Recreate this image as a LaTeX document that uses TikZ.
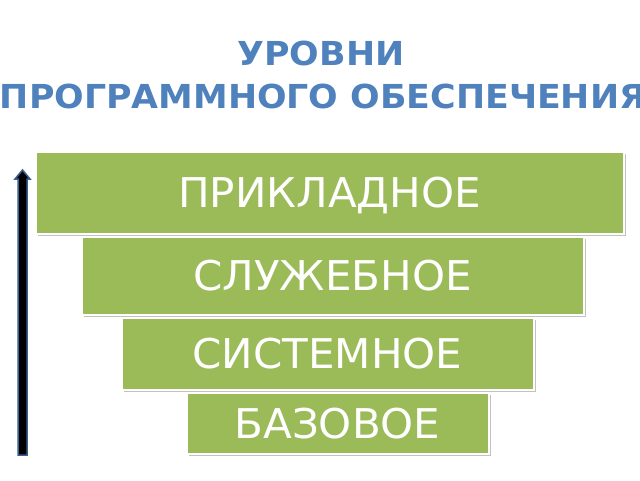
\documentclass[tikz,border=0pt]{standalone}
\usepackage{fontspec}
\setmainfont{DejaVu Sans}
\newfontfamily\ttlfont[FakeStretch=1.055]{DejaVu Sans Bold}
\newfontfamily\lvlfont[FakeStretch=1.025]{DejaVu Sans}
\usetikzlibrary{shadows}
\definecolor{lvlgreen}{HTML}{9BBB59}
\definecolor{ttlblue}{HTML}{4F81BD}
\definecolor{arrblue}{HTML}{3A5F8F}
\begin{document}
\begin{tikzpicture}[x=1pt,y=-1pt,
  ttl/.style={text=ttlblue, font=\ttlfont\fontsize{33}{40}\selectfont, anchor=base, inner sep=0pt},
  lvl/.style={fill=lvlgreen, draw=white, line width=2pt, text=white,
    font=\lvlfont\fontsize{41}{48}\selectfont, inner sep=0pt, text height=30pt, text depth=0pt,
    drop shadow={shadow xshift=2pt, shadow yshift=-2pt, fill=gray!80, opacity=0.6}},
  uparrow/.style={fill=black, draw=arrblue, line width=1.5pt, line join=miter}]
\useasboundingbox (0,0) rectangle (640,480);
\fill[white] (0,0) rectangle (640,480);
% title
\node[ttl] (t1) at (321,65) {УРОВНИ};
\node[ttl] (t2) at (323,108) {ПРОГРАММНОГО ОБЕСПЕЧЕНИЯ};
% levels
\node[lvl, minimum width=588pt, minimum height=82pt] (b1) at (329.5,192.5) {ПРИКЛАДНОЕ};
\node[lvl, minimum width=502pt, minimum height=78pt] (b2) at (332.5,275.5) {СЛУЖЕБНОЕ};
\node[lvl, minimum width=412pt, minimum height=72pt] (b3) at (327.5,353.5) {СИСТЕМНОЕ};
\node[lvl, minimum width=302pt, minimum height=61pt] (b4) at (337.5,423) {БАЗОВОЕ};
% arrow
\filldraw[uparrow] (18,455) -- (18,179) -- (15,179) -- (22.5,170) -- (30,179) -- (27,179) -- (27,455) -- cycle;
\end{tikzpicture}
\end{document}
